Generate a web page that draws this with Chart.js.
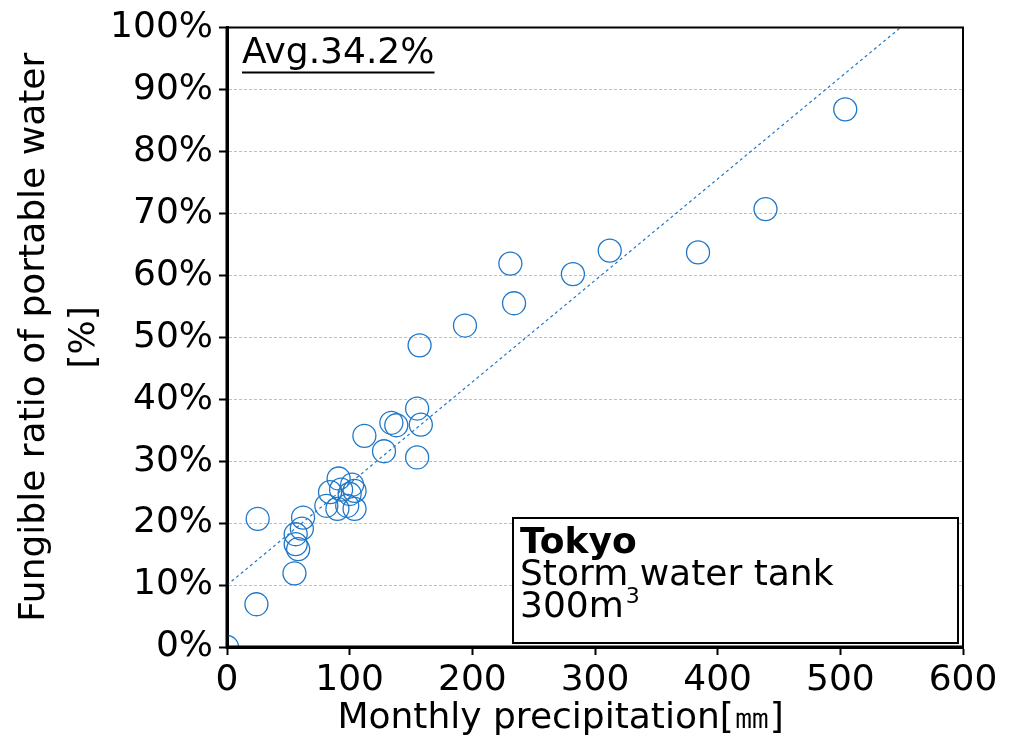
<!DOCTYPE html>
<html>
<head>
<meta charset="utf-8">
<script src="https://cdn.jsdelivr.net/npm/chart.js@4"></script>
<style>
  html, body { margin: 0; padding: 0; background: #fff; }
  #wrap { width: 1013px; height: 742px; }
</style>
</head>
<body>
<div id="wrap"><canvas id="chart" width="1013" height="742"></canvas></div>
<script>
// monthly precipitation [mm] and fungible ratio [%]
const precipitation = [0, 24, 25, 55, 58, 56, 56, 61, 62,
  91, 84, 93, 102, 104, 100, 81, 90, 98, 104,
  155, 134, 138, 158, 112, 128, 155,
  157, 194, 231, 234, 282, 312, 384, 439, 504];
const fungibleRatio = [0, 6.9, 20.7, 11.9, 15.8, 16.6, 18.2, 19.1, 20.9,
  27.2, 25.0, 25.4, 26.2, 25.2, 24.7, 22.8, 22.3, 22.8, 22.3,
  38.5, 36.2, 35.8, 35.9, 34.1, 31.6, 30.6,
  48.7, 51.9, 61.9, 55.5, 60.2, 64.0, 63.7, 70.7, 86.8];
// linear trend line end points
const trendX = [0, 549];
const trendY = [10, 100];

const xTicks = [0, 600, 100];   // min, max, step
const yTicks = [0, 100, 10];

const blue = '#1f78c8';
const font = 'DejaVu Sans';

const points = precipitation.map((x, i) => ({ x: x, y: fungibleRatio[i] }));
const trend = trendX.map((x, i) => ({ x: x, y: trendY[i] }));

// frame + text boxes
const extras = {
  id: 'extras',
  afterDatasetsDraw(chart) {
    const ctx = chart.ctx;
    const a = chart.chartArea;
    ctx.save();
    ctx.setLineDash([]);
    // left/bottom axis lines solid, top and right frame
    ctx.strokeStyle = '#000';
    ctx.lineWidth = 3;
    ctx.beginPath();
    ctx.moveTo(a.left, a.top);
    ctx.lineTo(a.left, a.bottom);
    ctx.lineTo(a.right, a.bottom);
    ctx.stroke();
    ctx.lineWidth = 2;
    ctx.beginPath();
    ctx.moveTo(a.left, a.top);
    ctx.lineTo(a.right, a.top);
    ctx.lineTo(a.right, a.bottom);
    ctx.stroke();

    // average label, underlined
    ctx.fillStyle = '#000';
    ctx.font = '36px "' + font + '"';
    ctx.textBaseline = 'alphabetic';
    ctx.textAlign = 'left';
    const avg = 'Avg.34.2%';
    ctx.fillText(avg, a.left + 15, a.top + 35);
    const w = ctx.measureText(avg).width;
    ctx.lineWidth = 2;
    ctx.beginPath();
    ctx.moveTo(a.left + 15, a.top + 45);
    ctx.lineTo(a.left + 15 + w, a.top + 45);
    ctx.stroke();

    // location box
    const bx = a.left + 286, by = a.bottom - 129;
    const bw = a.right - 5 - bx, bh = a.bottom - 4 - by;
    ctx.fillStyle = '#fff';
    ctx.fillRect(bx, by, bw, bh);
    ctx.strokeRect(bx, by, bw, bh);
    ctx.fillStyle = '#000';
    ctx.font = 'bold 36px "' + font + '"';
    ctx.fillText('Tokyo', bx + 7, by + 35);
    ctx.font = '36px "' + font + '"';
    ctx.fillText('Storm water tank', bx + 7, by + 67);
    ctx.fillText('300m', bx + 7, by + 99);
    const mw = ctx.measureText('300m').width;
    ctx.font = '22px "' + font + '"';
    ctx.fillText('3', bx + 9 + mw, by + 85);
    ctx.restore();
  }
};

new Chart(document.getElementById('chart'), {
  type: 'scatter',
  data: {
    datasets: [{
      data: points,
      pointRadius: 11.5,
      pointHoverRadius: 11.5,
      pointBorderWidth: 1.3,
      borderColor: blue,
      backgroundColor: 'rgba(0,0,0,0)'
    }, {
      type: 'line',
      data: trend,
      borderColor: blue,
      borderWidth: 1.2,
      borderDash: [3, 3],
      pointRadius: 0,
      fill: false
    }]
  },
  options: {
    responsive: false,
    animation: false,
    layout: { padding: { left: 0, top: 25, right: 50, bottom: 0 } },
    plugins: { legend: { display: false }, tooltip: { enabled: false } },
    scales: {
      x: {
        type: 'linear',
        min: xTicks[0], max: xTicks[1],
        afterFit: (s) => { s.height = 95; },
        ticks: { stepSize: xTicks[2], color: '#000', padding: 4,
          font: { family: font, size: 36 }, maxRotation: 0 },
        grid: { drawOnChartArea: false, drawTicks: true, tickLength: 8,
          tickColor: '#000', tickWidth: 2 },
        border: { color: '#000', width: 3 },
        // trailing spaces nudge the centred title left like the original
        title: { display: true, text: 'Monthly precipitation[㎜]      ', color: '#000',
          font: { family: font, size: 36 }, padding: { top: 0, bottom: 2 } }
      },
      y: {
        min: yTicks[0], max: yTicks[1],
        afterFit: (s) => { s.width = 227; },
        ticks: { stepSize: yTicks[2], color: '#000', padding: 6,
          font: { family: font, size: 36 }, callback: (v) => v + '%' },
        grid: { color: '#c0c0c0', lineWidth: 1,
          tickLength: 8, tickColor: '#000', tickWidth: 2, tickBorderDash: [] },
        border: { color: '#000', width: 3, dash: [3, 2] },
        title: { display: true, text: ['Fungible ratio of portable water', '[%]'],
          color: '#000', font: { family: font, size: 36, lineHeight: 1.39 },
          padding: { top: 10, bottom: 0 } }
      }
    }
  },
  plugins: [extras]
});
</script>
</body>
</html>
